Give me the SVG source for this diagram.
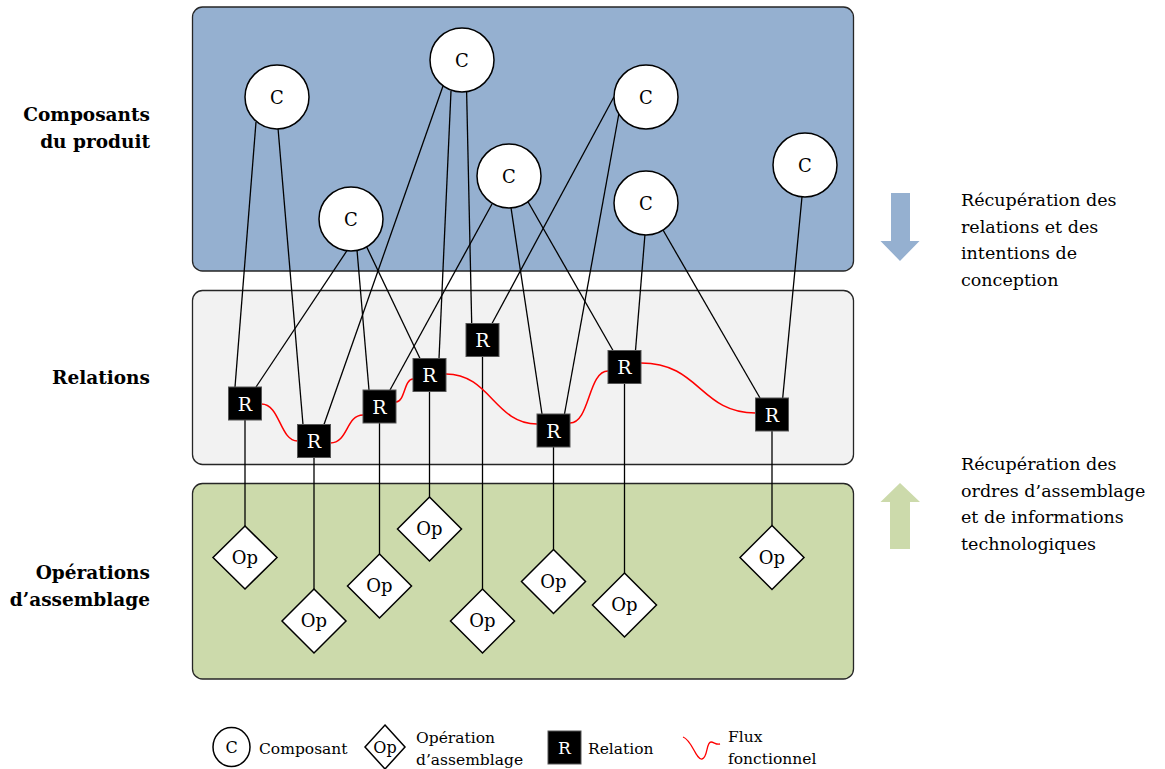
<svg xmlns="http://www.w3.org/2000/svg" width="1165" height="769" viewBox="0 0 1165 769">
<style>
  text { font-family: "DejaVu Serif", "Liberation Serif", serif; fill: #000; }
  .panel { stroke: #262626; stroke-width: 1.3; }
  .lbl { font-weight: bold; font-size: 18.5px; text-anchor: end; }
  .side { font-size: 17.5px; }
  .leg { font-size: 15.5px; }
  .comp ellipse, .comp circle { fill: #fff; stroke: #000; stroke-width: 1.5; }
  .comp text { font-size: 18px; text-anchor: middle; }
  .rel rect { fill: #000; stroke: #555; stroke-width: 1; }
  .rel text { font-size: 19px; text-anchor: middle; fill: #fff; }
  .op polygon { fill: #fff; stroke: #000; stroke-width: 1.5; }
  .op text { font-size: 18px; text-anchor: middle; }
  .conn line { stroke: #000; stroke-width: 1.3; }
  .flux path { fill: none; stroke: #ff0000; stroke-width: 1.5; }
</style>

<!-- panels -->
<rect class="panel" x="192.5" y="7" width="661" height="264" rx="10" fill="#95b0d0"/>
<rect class="panel" x="192.5" y="290.5" width="661" height="174" rx="10" fill="#f2f2f2"/>
<rect class="panel" x="192.5" y="483.5" width="661" height="195.5" rx="10" fill="#ccdaab"/>

<!-- left labels -->
<text class="lbl" x="150" y="121">Composants</text>
<text class="lbl" x="150" y="148">du produit</text>
<text class="lbl" x="150" y="383.5">Relations</text>
<text class="lbl" x="150" y="579">Opérations</text>
<text class="lbl" x="150" y="605.5">d’assemblage</text>

<!-- side arrows -->
<polygon points="891,193 910,193 910,241 919.5,241 900,261 880.5,241 891,241" fill="#95b0d0"/>
<polygon points="900,483 920,502 910,502 910,549 890,549 890,502 880.5,502" fill="#ccdaab"/>

<text class="side" x="961" y="206">Récupération des</text>
<text class="side" x="961" y="232.7">relations et des</text>
<text class="side" x="961" y="259.3">intentions de</text>
<text class="side" x="961" y="286">conception</text>
<text class="side" x="961" y="470">Récupération des</text>
<text class="side" x="961" y="496.7">ordres d’assemblage</text>
<text class="side" x="961" y="523.3">et de informations</text>
<text class="side" x="961" y="550">technologiques</text>

<!-- connectors -->
<g id="connectors" class="conn">
  <line x1="256" y1="122" x2="235" y2="387"/>
  <line x1="278" y1="128" x2="303" y2="424.5"/>
  <line x1="347.4" y1="250" x2="256" y2="387"/>
  <line x1="357" y1="250" x2="369" y2="390"/>
  <line x1="366.6" y1="246.7" x2="420" y2="358.5"/>
  <line x1="443" y1="86" x2="324" y2="424.5"/>
  <line x1="451" y1="91" x2="439" y2="358.5"/>
  <line x1="466.6" y1="91" x2="471.7" y2="323.5"/>
  <line x1="492" y1="204" x2="390" y2="390"/>
  <line x1="511" y1="207.7" x2="542" y2="414"/>
  <line x1="528" y1="201.7" x2="613" y2="350.5"/>
  <line x1="614" y1="96.7" x2="492" y2="323.5"/>
  <line x1="619" y1="113" x2="564.5" y2="414"/>
  <line x1="645" y1="234" x2="635.5" y2="350.5"/>
  <line x1="663" y1="230" x2="760" y2="398"/>
  <line x1="802" y1="196.7" x2="782.7" y2="398"/>
  <!-- relation to operation -->
  <line x1="245" y1="420" x2="245" y2="526"/>
  <line x1="314" y1="457.5" x2="314" y2="589"/>
  <line x1="379.5" y1="423" x2="379.5" y2="554"/>
  <line x1="429.5" y1="391.5" x2="429.5" y2="497"/>
  <line x1="482.5" y1="356.5" x2="482.5" y2="589"/>
  <line x1="553.5" y1="447" x2="553.5" y2="549.5"/>
  <line x1="624.5" y1="383.5" x2="624.5" y2="573"/>
  <line x1="772" y1="431" x2="772" y2="525.5"/>
</g>
<g id="flux" class="flux">
  <path d="M261.5,404 C280,404 280,441 297.5,441"/>
  <path d="M330.5,443 C348,443 346,415 363,415"/>
  <path d="M396,402 C405,402 404,379 413,379"/>
  <path d="M446,374 C490,374 495,424 537,424"/>
  <path d="M570,423 C590,423 588,371 608,371"/>
  <path d="M641,363 C700,363 700,413 755.5,413"/>
</g>

<!-- components -->
<g id="C1" class="comp"><circle cx="277" cy="97" r="32"/><text x="277" y="103.5">C</text></g>
<g id="C2" class="comp"><circle cx="462" cy="60" r="32"/><text x="462" y="66.5">C</text></g>
<g id="C3" class="comp"><circle cx="351" cy="219" r="32"/><text x="351" y="225.5">C</text></g>
<g id="C4" class="comp"><circle cx="509" cy="176" r="32"/><text x="509" y="182.5">C</text></g>
<g id="C5" class="comp"><circle cx="646" cy="97" r="32"/><text x="646" y="103.5">C</text></g>
<g id="C6" class="comp"><circle cx="646" cy="203" r="32"/><text x="646" y="209.5">C</text></g>
<g id="C7" class="comp"><circle cx="805" cy="165" r="32"/><text x="805" y="171.5">C</text></g>

<!-- relations -->
<g id="R1" class="rel"><rect x="228.5" y="387" width="33" height="33"/><text x="245" y="410.5">R</text></g>
<g id="R2" class="rel"><rect x="297.5" y="424.5" width="33" height="33"/><text x="314" y="448">R</text></g>
<g id="R3" class="rel"><rect x="363" y="390" width="33" height="33"/><text x="379.5" y="413.5">R</text></g>
<g id="R4" class="rel"><rect x="413" y="358.5" width="33" height="33"/><text x="429.5" y="382">R</text></g>
<g id="R5" class="rel"><rect x="466" y="323.5" width="33" height="33"/><text x="482.5" y="347">R</text></g>
<g id="R6" class="rel"><rect x="537" y="414" width="33" height="33"/><text x="553.5" y="437.5">R</text></g>
<g id="R7" class="rel"><rect x="608" y="350.5" width="33" height="33"/><text x="624.5" y="374">R</text></g>
<g id="R8" class="rel"><rect x="755.5" y="398" width="33" height="33"/><text x="772" y="421.5">R</text></g>

<!-- operations -->
<g id="Op1" class="op"><polygon points="245,526 277,557.5 245,589 213,557.5"/><text x="245" y="563.5">Op</text></g>
<g id="Op2" class="op"><polygon points="314,589 346,621 314,653 282,621"/><text x="314" y="627">Op</text></g>
<g id="Op3" class="op"><polygon points="379.5,554 411.5,586 379.5,618 347.5,586"/><text x="379.5" y="592">Op</text></g>
<g id="Op4" class="op"><polygon points="429.5,497 461.5,529 429.5,561 397.5,529"/><text x="429.5" y="535">Op</text></g>
<g id="Op5" class="op"><polygon points="482.5,589 514.5,621 482.5,653 450.5,621"/><text x="482.5" y="627">Op</text></g>
<g id="Op6" class="op"><polygon points="553.5,549.5 585.5,581.5 553.5,613.5 521.5,581.5"/><text x="553.5" y="587.5">Op</text></g>
<g id="Op7" class="op"><polygon points="624.5,573 656.5,605 624.5,637 592.5,605"/><text x="624.5" y="611">Op</text></g>
<g id="Op8" class="op"><polygon points="772,525.5 804,557.5 772,589.5 740,557.5"/><text x="772" y="563.5">Op</text></g>

<!-- legend -->
<g id="legend">
  <g class="comp"><ellipse cx="231.5" cy="747" rx="18.5" ry="19.5"/><text x="231.5" y="753" style="font-size:16px">C</text></g>
  <text class="leg" x="259" y="753.5">Composant</text>
  <g class="op"><polygon points="385,725 405,747 385,769 365,747"/><text x="385" y="753" style="font-size:16px">Op</text></g>
  <text class="leg" x="416" y="743">Opération</text>
  <text class="leg" x="416" y="765">d’assemblage</text>
  <g class="rel"><rect x="548" y="731" width="33" height="33"/><text x="564.5" y="753.5" style="font-size:17px">R</text></g>
  <text class="leg" x="588" y="753.5">Relation</text>
  <path d="M683,737 C692,740 696,760 702,759 C708,758 706,742 711,742 C714,742 716,745 720,744" fill="none" stroke="#ff0000" stroke-width="1.3"/>
  <text class="leg" x="728" y="742">Flux</text>
  <text class="leg" x="728" y="763.5">fonctionnel</text>
</g>
</svg>
